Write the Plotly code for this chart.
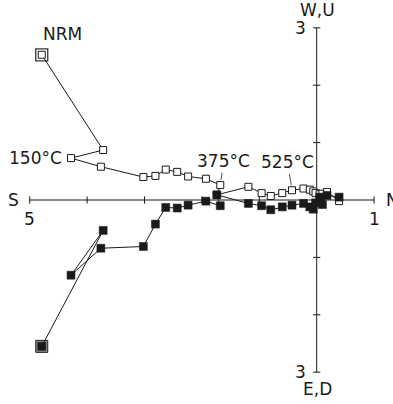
import plotly.graph_objects as go

# Demagnetisation steps (orthogonal vector diagram), units of the axis ticks
steps = ["NRM", "100°C", "150°C", "200°C", "225°C", "250°C", "275°C", "300°C",
         "325°C", "350°C", "375°C", "400°C", "425°C", "450°C", "475°C", "500°C",
         "525°C", "550°C", "560°C", "570°C", "580°C", "590°C", "600°C", "620°C",
         "650°C"]
north = [-4.79, -3.72, -4.28, -3.76, -3.02, -2.81, -2.63, -2.43, -2.24, -1.93,
         -1.68, -1.74, -1.19, -0.96, -0.80, -0.60, -0.43, -0.23, -0.12, -0.06,
         -0.02, 0.05, 0.10, 0.18, 0.39]
west = [2.53, 0.87, 0.73, 0.58, 0.40, 0.42, 0.53, 0.49, 0.41, 0.37,
        0.26, 0.09, 0.23, 0.12, 0.07, 0.12, 0.17, 0.20, 0.18, 0.15,
        0.12, 0.10, 0.11, 0.14, -0.02]
down = [2.55, 0.53, 1.31, 0.84, 0.81, 0.42, 0.13, 0.14, 0.09, 0.02,
        0.10, -0.09, 0.06, 0.10, 0.17, 0.12, 0.09, 0.06, 0.12, 0.16,
        0.05, -0.05, 0.08, -0.08, -0.05]
up = [-d for d in down]

labelled = ["150°C", "375°C", "525°C"]

h_ticks = [-5, -4, -3, -2, -1, 1]
v_ticks = [-3, -2, -1, 1, 2, 3]
h_end_labels = {-5: "5", 1: "1"}
v_end_labels = {3: "3", -3: "3"}

FONT = "DejaVu Sans"
INK = "#1a1a1a"
SCALE = 57.4          # pixels per unit
ORIGIN_X, ORIGIN_Y = 316.7, 200.0
W, H = 393, 404

fig = go.Figure()

# NRM frame markers (drawn underneath the series)
fig.add_trace(go.Scatter(x=[north[0]], y=[west[0]], mode="markers",
                         marker=dict(symbol="square", size=12, color="white",
                                     line=dict(color="#333333", width=1.3)),
                         hoverinfo="skip", showlegend=False))
fig.add_trace(go.Scatter(x=[north[0]], y=[up[0]], mode="markers",
                         marker=dict(symbol="square", size=12, color="#8a8a8a",
                                     line=dict(color="#222222", width=1)),
                         hoverinfo="skip", showlegend=False))

# Horizontal projection (open squares)
fig.add_trace(go.Scatter(x=north, y=west, mode="lines+markers", name="N-W",
                         line=dict(color=INK, width=1),
                         marker=dict(symbol="square", size=7, color="white",
                                     line=dict(color=INK, width=1)),
                         text=steps, showlegend=False))
# Vertical projection (filled squares)
fig.add_trace(go.Scatter(x=north, y=up, mode="lines+markers", name="N-Up",
                         line=dict(color=INK, width=1),
                         marker=dict(symbol="square", size=8, color=INK,
                                     line=dict(color=INK, width=0.5)),
                         text=steps, showlegend=False))

shapes = []
tick = 3.6 / SCALE
# axis lines
shapes.append(dict(type="line", x0=min(h_ticks), x1=max(h_ticks), y0=0, y1=0,
                   line=dict(color=INK, width=1), layer="below"))
shapes.append(dict(type="line", x0=0, x1=0, y0=min(v_ticks), y1=max(v_ticks),
                   line=dict(color=INK, width=1), layer="below"))
for t in h_ticks:
    shapes.append(dict(type="line", x0=t, x1=t, y0=-tick, y1=tick,
                       line=dict(color=INK, width=1), layer="below"))
for t in v_ticks:
    shapes.append(dict(type="line", x0=-tick, x1=tick, y0=t, y1=t,
                       line=dict(color=INK, width=1), layer="below"))

font = dict(family=FONT, size=17, color=INK)
ann = []
# axis end labels
ann.append(dict(x=min(h_ticks), y=0, text="S", showarrow=False, xanchor="right",
                xshift=-9, font=font))
ann.append(dict(x=max(h_ticks), y=0, text="N", showarrow=False, xanchor="left",
                xshift=10, font=font))
ann.append(dict(x=0, y=max(v_ticks), text="W,U", showarrow=False, yanchor="middle",
                yshift=18, xshift=1, font=font))
ann.append(dict(x=0, y=min(v_ticks), text="E,D", showarrow=False, yanchor="middle",
                yshift=-17, xshift=1, font=font))
for t, s in h_end_labels.items():
    ann.append(dict(x=t, y=0, text=s, showarrow=False, yanchor="middle",
                    yshift=-19, font=font))
for t, s in v_end_labels.items():
    ann.append(dict(x=0, y=t, text=s, showarrow=False, xanchor="right",
                    xshift=-9, font=font))

# step labels
i = steps.index("NRM")
ann.append(dict(x=north[i], y=west[i], text="NRM", showarrow=False,
                xshift=21, yshift=21, font=font))
i = steps.index("150°C")
ann.append(dict(x=north[i], y=west[i], text="150°C", showarrow=False,
                xanchor="right", xshift=-7, font=font))
for lab, (axp, ayp) in zip(["375°C", "525°C"], [(3.5, -24), (-4.5, -28)]):
    i = steps.index(lab)
    ann.append(dict(x=north[i], y=west[i], text=lab, showarrow=True,
                    arrowhead=0, arrowwidth=1, arrowcolor="#555555",
                    ax=axp, ay=ayp, standoff=5, font=font))

fig.update_layout(
    width=W, height=H,
    margin=dict(l=0, r=0, t=0, b=0),
    paper_bgcolor="white", plot_bgcolor="white",
    xaxis=dict(range=[-ORIGIN_X / SCALE, (W - ORIGIN_X) / SCALE], visible=False,
               fixedrange=True),
    yaxis=dict(range=[-(H - ORIGIN_Y) / SCALE, ORIGIN_Y / SCALE], visible=False,
               fixedrange=True),
    shapes=shapes, annotations=ann, showlegend=False,
)

fig.write_html("out.html")
